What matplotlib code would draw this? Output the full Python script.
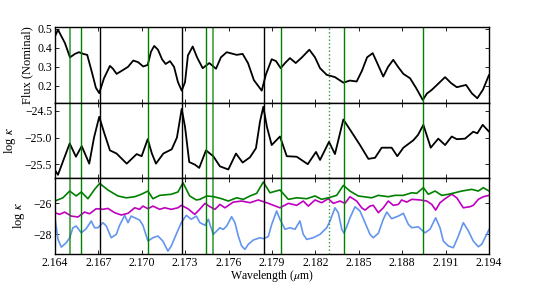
import numpy as np
import matplotlib
matplotlib.use('Agg')
import matplotlib.pyplot as plt

# fonts: serif text, stix for the greek letters
plt.rcParams['font.family'] = 'serif'
plt.rcParams['font.serif'] = ['Liberation Serif', 'DejaVu Serif']
plt.rcParams['mathtext.fontset'] = 'stix'
plt.rcParams['font.size'] = 8.5

# top panel: nominal flux
wl_flux = [2.16400, 2.16421, 2.16469, 2.16504, 2.16538, 2.16566, 2.16596, 2.16623, 2.16656, 2.16683,
           2.16706, 2.16739, 2.16780, 2.16801, 2.16826, 2.16863, 2.16905, 2.16941, 2.16974, 2.17010,
           2.17041, 2.17064, 2.17086, 2.17112, 2.17140, 2.17165, 2.17195, 2.17223, 2.17250, 2.17276,
           2.17299, 2.17319, 2.17352, 2.17382, 2.17421, 2.17467, 2.17513, 2.17547, 2.17587, 2.17656,
           2.17697, 2.17734, 2.17775, 2.17829, 2.17858, 2.17898, 2.17928, 2.17960, 2.17990, 2.18024,
           2.18064, 2.18107, 2.18158, 2.18197, 2.18232, 2.18278, 2.18335, 2.18393, 2.18439, 2.18485,
           2.18522, 2.18557, 2.18596, 2.18633, 2.18669, 2.18702, 2.18738, 2.18771, 2.18808, 2.18854,
           2.18895, 2.18942, 2.18971, 2.19004, 2.19047, 2.19096, 2.19137, 2.19177, 2.19241, 2.19282,
           2.19319, 2.19358, 2.19400]
flux = [0.460, 0.495, 0.425, 0.350, 0.368, 0.377, 0.368, 0.363, 0.270, 0.190,
        0.162, 0.240, 0.305, 0.290, 0.263, 0.280, 0.300, 0.333, 0.325, 0.302,
        0.310, 0.380, 0.410, 0.390, 0.340, 0.315, 0.330, 0.300, 0.220, 0.175,
        0.220, 0.360, 0.407, 0.350, 0.293, 0.320, 0.290, 0.350, 0.377, 0.363,
        0.368, 0.320, 0.230, 0.175, 0.260, 0.340, 0.330, 0.293, 0.320, 0.346,
        0.320, 0.350, 0.390, 0.350, 0.293, 0.258, 0.246, 0.217, 0.228, 0.223,
        0.280, 0.350, 0.372, 0.310, 0.249, 0.300, 0.337, 0.300, 0.263, 0.240,
        0.190, 0.126, 0.160, 0.179, 0.210, 0.246, 0.215, 0.193, 0.205, 0.160,
        0.135, 0.180, 0.258]

# middle panel: total opacity
wl_kap = [2.16400, 2.16421, 2.16455, 2.16502, 2.16545, 2.16585, 2.16637, 2.16670, 2.16706, 2.16739,
          2.16780, 2.16826, 2.16896, 2.16965, 2.16999, 2.17041, 2.17070, 2.17098, 2.17149, 2.17207,
          2.17243, 2.17276, 2.17299, 2.17328, 2.17368, 2.17397, 2.17444, 2.17494, 2.17540, 2.17598,
          2.17651, 2.17697, 2.17748, 2.17789, 2.17817, 2.17840, 2.17865, 2.17898, 2.17955, 2.18002,
          2.18071, 2.18147, 2.18204, 2.18232, 2.18294, 2.18335, 2.18393, 2.18451, 2.18508, 2.18566,
          2.18612, 2.18658, 2.18727, 2.18766, 2.18808, 2.18877, 2.18909, 2.18946, 2.18997, 2.19049,
          2.19096, 2.19142, 2.19177, 2.19234, 2.19291, 2.19319, 2.19356, 2.19400]
log_kap = [-25.61, -25.70, -25.45, -25.11, -25.36, -25.16, -25.49, -25.00, -24.61, -24.90,
           -25.24, -25.30, -25.49, -25.31, -25.35, -25.03, -25.30, -25.49, -25.30, -25.22,
           -25.00, -24.46, -24.80, -25.46, -25.51, -25.57, -25.24, -25.35, -25.54, -25.60,
           -25.30, -25.47, -25.37, -25.20, -24.70, -24.42, -24.80, -25.14, -24.98, -25.35,
           -25.36, -25.50, -25.27, -25.42, -25.08, -25.31, -24.66, -24.90, -25.14, -25.40,
           -25.38, -25.19, -25.19, -25.35, -25.19, -25.05, -24.95, -24.76, -25.19, -25.02,
           -25.14, -24.98, -25.03, -25.02, -24.89, -24.92, -24.76, -24.89]

# bottom panel: three opacity components
wl_green = [2.16400, 2.16455, 2.16502, 2.16547, 2.16582, 2.16628, 2.16674, 2.16709, 2.16766, 2.16835,
            2.16893, 2.16951, 2.16997, 2.17043, 2.17077, 2.17124, 2.17204, 2.17250, 2.17285, 2.17331,
            2.17377, 2.17402, 2.17449, 2.17494, 2.17552, 2.17598, 2.17656, 2.17702, 2.17748, 2.17794,
            2.17840, 2.17886, 2.17955, 2.18013, 2.18071, 2.18140, 2.18197, 2.18243, 2.18289, 2.18347,
            2.18393, 2.18439, 2.18496, 2.18589, 2.18635, 2.18704, 2.18750, 2.18808, 2.18866, 2.18900,
            2.18946, 2.18980, 2.19027, 2.19073, 2.19119, 2.19165, 2.19211, 2.19280, 2.19326, 2.19360,
            2.19400]
kap_green = [-25.85, -25.64, -25.20, -25.52, -25.26, -25.70, -25.09, -24.70, -25.13, -25.52,
             -25.64, -25.57, -25.41, -25.20, -25.70, -25.48, -25.41, -25.26, -24.66, -25.52,
             -25.78, -25.74, -25.52, -25.56, -25.70, -25.85, -25.64, -25.74, -25.52, -25.35,
             -24.61, -25.31, -25.13, -25.74, -25.64, -25.70, -25.52, -25.74, -25.64, -25.48,
             -24.83, -25.20, -25.52, -25.64, -25.48, -25.57, -25.48, -25.48, -25.31, -25.35,
             -24.98, -25.41, -25.20, -25.48, -25.41, -25.31, -25.20, -25.09, -25.20, -24.98,
             -25.20]

wl_magenta = [2.16400, 2.16432, 2.16467, 2.16513, 2.16559, 2.16605, 2.16640, 2.16685, 2.16732, 2.16766,
              2.16813, 2.16858, 2.16905, 2.16951, 2.16985, 2.17008, 2.17043, 2.17077, 2.17124, 2.17158,
              2.17204, 2.17250, 2.17273, 2.17319, 2.17366, 2.17400, 2.17437, 2.17471, 2.17506, 2.17540,
              2.17575, 2.17632, 2.17690, 2.17748, 2.17805, 2.17863, 2.17955, 2.18013, 2.18071, 2.18116,
              2.18151, 2.18197, 2.18243, 2.18289, 2.18324, 2.18370, 2.18404, 2.18439, 2.18485, 2.18520,
              2.18543, 2.18577, 2.18600, 2.18635, 2.18669, 2.18704, 2.18738, 2.18773, 2.18796, 2.18831,
              2.18866, 2.18923, 2.18969, 2.19004, 2.19031, 2.19061, 2.19096, 2.19142, 2.19177, 2.19222,
              2.19268, 2.19291, 2.19326, 2.19360, 2.19400]
kap_magenta = [-26.61, -26.72, -26.57, -26.83, -26.89, -26.57, -26.68, -26.35, -26.39, -26.33,
               -26.61, -26.76, -26.65, -26.29, -26.39, -26.18, -26.35, -26.18, -26.39, -26.29,
               -26.39, -26.29, -26.13, -26.35, -26.72, -26.39, -26.00, -26.22, -26.39, -26.07,
               -26.29, -25.92, -25.85, -25.96, -25.78, -25.96, -26.29, -26.00, -26.13, -25.85,
               -26.18, -25.78, -25.96, -25.70, -26.00, -25.85, -26.00, -25.57, -25.85, -26.29,
               -26.44, -26.18, -26.13, -26.61, -26.29, -25.85, -26.13, -26.07, -25.78, -25.92,
               -25.74, -25.78, -25.85, -26.07, -26.44, -25.96, -25.70, -25.41, -25.64, -26.29,
               -26.22, -26.13, -25.74, -25.57, -25.48]

wl_blue = [2.16400, 2.16421, 2.16444, 2.16478, 2.16502, 2.16524, 2.16547, 2.16582, 2.16616, 2.16651,
           2.16674, 2.16697, 2.16732, 2.16755, 2.16789, 2.16824, 2.16847, 2.16882, 2.16905, 2.16927,
           2.16951, 2.16985, 2.17008, 2.17043, 2.17077, 2.17112, 2.17146, 2.17181, 2.17204, 2.17238,
           2.17273, 2.17308, 2.17342, 2.17377, 2.17402, 2.17437, 2.17460, 2.17494, 2.17518, 2.17540,
           2.17563, 2.17587, 2.17621, 2.17644, 2.17667, 2.17690, 2.17713, 2.17736, 2.17771, 2.17817,
           2.17840, 2.17874, 2.17898, 2.17932, 2.17955, 2.17990, 2.18024, 2.18059, 2.18093, 2.18116,
           2.18140, 2.18185, 2.18232, 2.18278, 2.18301, 2.18335, 2.18358, 2.18382, 2.18398, 2.18427,
           2.18439, 2.18474, 2.18508, 2.18543, 2.18577, 2.18600, 2.18635, 2.18669, 2.18693, 2.18727,
           2.18773, 2.18808, 2.18842, 2.18866, 2.18911, 2.18957, 2.18992, 2.19031, 2.19061, 2.19084,
           2.19119, 2.19153, 2.19188, 2.19222, 2.19257, 2.19291, 2.19326, 2.19349, 2.19384, 2.19400]
kap_blue = [-26.94, -28.35, -28.85, -28.57, -28.24, -27.59, -27.48, -27.92, -27.65, -27.15,
            -27.59, -27.59, -27.26, -27.48, -28.24, -28.02, -27.43, -26.78, -27.26, -26.83,
            -26.94, -27.09, -27.43, -28.46, -28.24, -28.13, -28.46, -29.11, -28.78, -28.02,
            -27.26, -26.78, -27.04, -26.83, -27.26, -27.43, -27.04, -28.02, -27.80, -27.59,
            -27.70, -27.48, -26.87, -27.26, -28.13, -28.78, -29.00, -28.67, -28.39, -28.24,
            -28.30, -28.17, -27.37, -26.50, -27.04, -27.69, -27.59, -27.69, -27.15, -28.02,
            -28.35, -28.24, -28.02, -27.59, -27.15, -26.29, -26.61, -27.69, -27.95, -27.26,
            -26.94, -26.22, -26.50, -27.26, -28.02, -28.24, -27.95, -27.04, -26.57, -27.00,
            -26.83, -26.65, -27.37, -27.59, -27.53, -27.92, -27.69, -26.94, -27.59, -28.46,
            -28.78, -28.89, -28.13, -27.26, -27.80, -28.46, -28.83, -28.67, -28.02, -27.69]

# line identifications
black_lines = [2.16708, 2.17278, 2.17843]
green_lines = [2.16583, 2.17041, 2.17446, 2.17960, 2.18398, 2.18946]
light_green_lines = [2.16502, 2.17490]
dotted_lines = [2.18294]

xticks = [2.164, 2.167, 2.170, 2.173, 2.176, 2.179, 2.182, 2.185, 2.188, 2.191, 2.194]

fig = plt.figure(figsize=(5.44, 2.83), dpi=100)
left, width = 0.101, 0.798
ax1 = fig.add_axes([left, 0.636, width, 0.267])
ax2 = fig.add_axes([left, 0.371, width, 0.265], sharex=ax1)
ax3 = fig.add_axes([left, 0.1025, width, 0.2685], sharex=ax1)

line_kw = dict(solid_joinstyle='round', solid_capstyle='round')
ax1.plot(wl_flux, flux, 'k-', lw=1.3, **line_kw)
ax2.plot(wl_kap, log_kap, 'k-', lw=1.3, **line_kw)
ax3.plot(wl_blue, kap_blue, '-', color='cornflowerblue', lw=1.2, **line_kw)
ax3.plot(wl_magenta, kap_magenta, '-', color='m', lw=1.2, **line_kw)
ax3.plot(wl_green, kap_green, '-', color='g', lw=1.2, **line_kw)

for ax in (ax1, ax2, ax3):
    for w in black_lines:
        ax.axvline(w, color='k', lw=1.0)
    for w in green_lines:
        ax.axvline(w, color='g', lw=1.0)
    for w in light_green_lines:
        ax.axvline(w, color='g', lw=1.4, alpha=0.65)
    for w in dotted_lines:
        ax.axvline(w, color='g', lw=1.0, ls=':', alpha=0.8)
    ax.tick_params(direction='in', top=True, right=True, length=3, width=0.6, pad=2)
    for sp in ax.spines.values():
        sp.set_linewidth(1.0)

ax1.set_xlim(2.164, 2.194)
ax1.set_ylim(0.11, 0.507)
ax2.set_ylim(-25.76, -24.35)
ax3.set_ylim(-29.3, -24.35)

ax1.set_yticks([0.2, 0.3, 0.4, 0.5])
ax2.set_yticks([-25.5, -25.0, -24.5])
ax2.set_yticklabels(['\u221225.5', '\u221225.0', '\u221224.5'])
ax3.set_yticks([-28, -26])
ax3.set_yticklabels(['\u221228', '\u221226'])

ax3.set_xticks(xticks)
ax3.set_xticklabels(['%.3f' % t for t in xticks])
ax1.tick_params(labelbottom=False)
ax2.tick_params(labelbottom=False)

ax1.set_ylabel('Flux (Nominal)', fontsize=9, labelpad=3)
ax2.set_ylabel(r'log $\kappa$', fontsize=9, labelpad=5)
ax3.set_ylabel(r'log $\kappa$', fontsize=9, labelpad=5)
ax3.set_xlabel(r'Wavelength ($\mu$m)', fontsize=8.5, labelpad=-0.5)

fig.savefig('out.png', dpi=100)
